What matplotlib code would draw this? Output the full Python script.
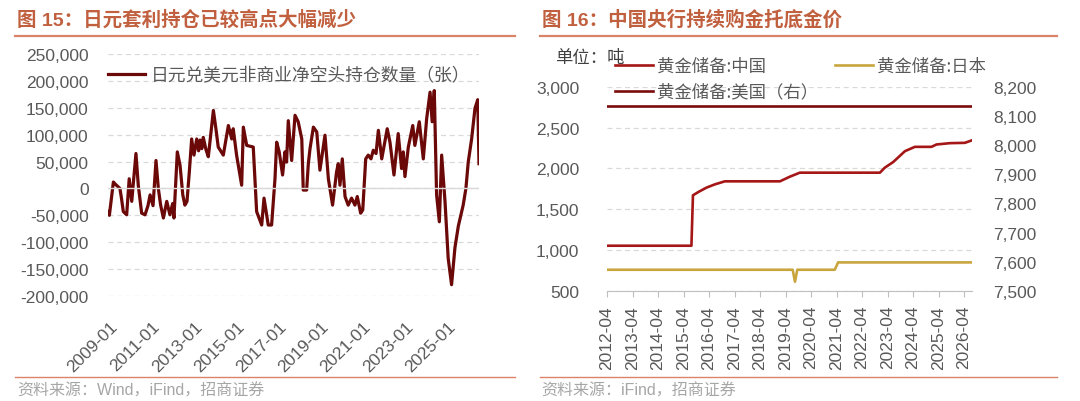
import matplotlib
matplotlib.use("Agg")
import matplotlib.pyplot as plt
from matplotlib.lines import Line2D
from matplotlib.ticker import FuncFormatter

# ---- data: JPY non-commercial net short (contracts) ----
jpy_dates = [2008.92, 2008.97, 2009.16, 2009.25, 2009.33, 2009.47, 2009.55, 2009.63, 2009.79, 2009.91,
             2010.03, 2010.23, 2010.34, 2010.50, 2010.66, 2010.80, 2010.90, 2011.04, 2011.18, 2011.29,
             2011.40, 2011.53, 2011.69, 2011.84, 2011.97, 2012.03, 2012.19, 2012.32, 2012.45, 2012.55,
             2012.65, 2012.76, 2012.87, 2012.98, 2013.11, 2013.20, 2013.27, 2013.35, 2013.42, 2013.55,
             2013.66, 2013.90, 2014.02,
             2014.13, 2014.37, 2014.61, 2014.77, 2014.84, 2015.00, 2015.24, 2015.32, 2015.48, 2015.79,
             2015.95, 2016.19, 2016.30, 2016.50, 2016.66, 2016.82, 2016.90, 2017.02, 2017.18, 2017.29,
             2017.37, 2017.45, 2017.61, 2017.77, 2017.92, 2018.09, 2018.16, 2018.32, 2018.40, 2018.48,
             2018.64, 2018.80, 2018.95, 2019.19, 2019.35, 2019.55, 2019.74, 2019.82, 2019.90, 2020.01,
             2020.14, 2020.29, 2020.45, 2020.61, 2020.72, 2020.88, 2020.98, 2021.12, 2021.24, 2021.37,
             2021.48, 2021.61, 2021.72, 2021.88, 2022.14, 2022.27, 2022.46, 2022.66, 2022.82, 2022.90,
             2022.98, 2023.14, 2023.35, 2023.45, 2023.66, 2023.85, 2024.01, 2024.17, 2024.27, 2024.37,
             2024.48, 2024.61, 2024.72, 2024.88, 2025.03, 2025.19, 2025.35, 2025.51, 2025.74, 2025.87,
             2025.98, 2026.14, 2026.30, 2026.43, 2026.49]
jpy_net_short = [-43000, -50000, 12000, 8000, 5000, 0, -20000, -43000, -49000, 18000,
                 -24000, 65000, 6000, -46000, -49000, -32000, -12000, -32000, 52000, 0,
                 -31000, -55000, -24000, -49000, -28000, -55000, 68000, 43000, -12000, -31000,
                 -24000, 31000, 92000, 62000, 92000, 70000, 90000, 74000, 95000, 72000,
                 59000, 145000, 111000,
                 77000, 62000, 117000, 92000, 111000, 62000, 6000, 114000, 80000, 77000,
                 -43000, -68000, -18000, -68000, -68000, 18000, 86000, 68000, 25000, 68000,
                 49000, 126000, 52000, 136000, 124000, 92000, -3000, -3000, 46000, 74000,
                 114000, 105000, 34000, 99000, 18000, -31000, 31000, 46000, 6000, 55000,
                 -15000, -31000, -18000, -31000, -15000, -46000, -40000, 55000, 62000, 55000,
                 71000, 65000, 108000, 55000, 111000, 86000, 25000, 102000, 37000, 68000,
                 22000, 77000, 117000, 80000, 124000, 55000, 130000, 179000, 124000, 182000,
                 -12000, -62000, 62000, -25000, -130000, -179000, -110000, -70000, -31000, 0,
                 49000, 92000, 149000, 165000, 46000]
jpy_label = "日元兑美元非商业净空头持仓数量（张）"
left_xticks = [2009, 2011, 2013, 2015, 2017, 2019, 2021, 2023, 2025]
left_xticklabels = ["2009-01", "2011-01", "2013-01", "2015-01", "2017-01",
                    "2019-01", "2021-01", "2023-01", "2025-01"]

# ---- data: central bank gold reserves (tonnes) ----
china_dates = [2012.25, 2015.56, 2015.62, 2015.83, 2016.15, 2016.48, 2016.87, 2019.03, 2019.42, 2019.81,
               2022.95, 2023.14, 2023.47, 2023.93, 2024.32, 2024.97, 2025.17, 2025.69, 2026.28, 2026.54]
china_gold = [1054, 1054, 1671, 1711, 1765, 1805, 1842, 1842, 1899, 1948,
              1948, 2009, 2078, 2211, 2264, 2264, 2293, 2309, 2313, 2342]
japan_dates = [2012.25, 2019.53, 2019.62, 2019.71, 2021.18, 2021.31, 2026.54]
japan_gold = [760, 760, 613, 760, 760, 850, 850]
us_dates = [2012.25, 2026.54]
us_gold = [8133, 8133]
right_xticks = [2012.25 + i for i in range(15)]
right_xticklabels = ["%d-04" % (2012 + i) for i in range(15)]

W, H = 1080, 402
TITLE_C = "#c0603f"
RULE_C = "#d98466"
TICK_C = "#595959"
GRID_C = "#d9d9d9"
CJK = ["Noto Sans CJK SC", "DejaVu Sans"]
NUM = ["Liberation Sans", "Noto Sans CJK SC", "DejaVu Sans"]

plt.rcParams["font.family"] = NUM


def box(x0, y0, x1, y1):
    return [x0 / W, 1 - y1 / H, (x1 - x0) / W, (y1 - y0) / H]


def fy(y):
    return 1 - y / H


comma = FuncFormatter(lambda v, p: "{:,.0f}".format(v))

fig = plt.figure(figsize=(W / 100, H / 100), dpi=100)

# titles, rules and sources
fig.text(17 / W, fy(20), "图 15：日元套利持仓已较高点大幅减少", color=TITLE_C, fontsize=14,
         fontweight="bold", family=NUM, va="center", ha="left")
fig.text(542 / W, fy(20), "图 16：中国央行持续购金托底金价", color=TITLE_C, fontsize=14,
         fontweight="bold", family=NUM, va="center", ha="left")
for x0, x1 in [(15, 515), (540, 1057)]:
    fig.add_artist(Line2D([x0 / W, x1 / W], [fy(37), fy(37)], color=RULE_C, lw=1.6))
    fig.add_artist(Line2D([x0 / W, x1 / W], [fy(378), fy(378)], color=RULE_C, lw=1.0))
fig.text(17 / W, fy(391), "资料来源：Wind，iFind，招商证券", color="#a6a6a6", fontsize=11.5,
         family=NUM, va="center", ha="left")
fig.text(541 / W, fy(391), "资料来源：iFind，招商证券", color="#a6a6a6", fontsize=11.5,
         family=NUM, va="center", ha="left")

# ---- left chart ----
ax1 = fig.add_axes(box(108, 55, 479, 297))
ax1.plot(jpy_dates, jpy_net_short, color="#6b0808", lw=2.3, label=jpy_label)
ax1.set_xlim(2008.905, 2026.49)
ax1.set_ylim(-200000, 250000)
ax1.set_yticks(range(-200000, 250001, 50000))
ax1.yaxis.set_major_formatter(comma)
ax1.grid(axis="y", color=GRID_C, lw=0.9, ls=(0, (4, 3)))
ax1.axhline(0, color=GRID_C, lw=1.0)
ax1.set_axisbelow(True)
for s in ax1.spines.values():
    s.set_visible(False)
ax1.set_xticks(left_xticks)
ax1.set_xticklabels(left_xticklabels, rotation=45, ha="right", va="top", rotation_mode="anchor")
ax1.tick_params(axis="both", length=0, labelsize=12.5, labelcolor=TICK_C)
ax1.tick_params(axis="y", pad=14)
ax1.tick_params(axis="x", pad=16)
ax1.legend(loc="center left", bbox_to_anchor=(108 / W, fy(76)), bbox_transform=fig.transFigure,
           frameon=False, handlelength=2.1, handletextpad=0.3, borderpad=0, borderaxespad=0,
           prop={"family": CJK, "size": 12.8}, labelcolor=TICK_C)

# ---- right chart ----
ax2 = fig.add_axes(box(607, 87.7, 972, 292))
l_cn, = ax2.plot(china_dates, china_gold, color="#a51616", lw=1.9, label="黄金储备:中国")
l_jp, = ax2.plot(japan_dates, japan_gold, color="#c9a53e", lw=1.9, label="黄金储备:日本")
ax2.set_xlim(2012.25, 2026.56)
ax2.set_ylim(500, 3000)
ax2.set_yticks(range(500, 3001, 500))
ax2.yaxis.set_major_formatter(comma)
ax2.grid(axis="y", color=GRID_C, lw=0.9, ls=(0, (4, 3)))
ax2.set_axisbelow(True)
for k, s in ax2.spines.items():
    s.set_visible(k == "bottom")
ax2.spines["bottom"].set_color("#bfbfbf")
ax2.set_xticks(right_xticks)
ax2.set_xticklabels(right_xticklabels, rotation=90, ha="center", va="top")
ax2.tick_params(axis="x", length=4, color="#bfbfbf", pad=6, labelsize=12.5, labelcolor=TICK_C)
ax2.tick_params(axis="y", length=0, pad=20, labelsize=12.5, labelcolor=TICK_C)

ax3 = ax2.twinx()
l_us, = ax3.plot(us_dates, us_gold, color="#7a0c0c", lw=1.9, label="黄金储备:美国（右）")
ax3.set_ylim(7500, 8200)
ax3.set_yticks(range(7500, 8201, 100))
ax3.yaxis.set_major_formatter(comma)
for s in ax3.spines.values():
    s.set_visible(False)
ax3.tick_params(axis="y", length=0, pad=15, labelsize=12.5, labelcolor=TICK_C)

fig.text(555 / W, fy(58), "单位：吨", fontsize=12.5, family=CJK, color="#404040", va="center", ha="left")
ax3.legend(handles=[l_cn, l_us, l_jp], ncol=2, loc="upper left", bbox_to_anchor=(615 / W, fy(58)),
           bbox_transform=fig.transFigure, frameon=False, handlelength=2.2, handletextpad=0.2,
           columnspacing=1.0, labelspacing=0.45, borderpad=0, borderaxespad=0,
           prop={"family": CJK, "size": 12.5}, labelcolor=TICK_C)

fig.savefig("out.png", dpi=100)
